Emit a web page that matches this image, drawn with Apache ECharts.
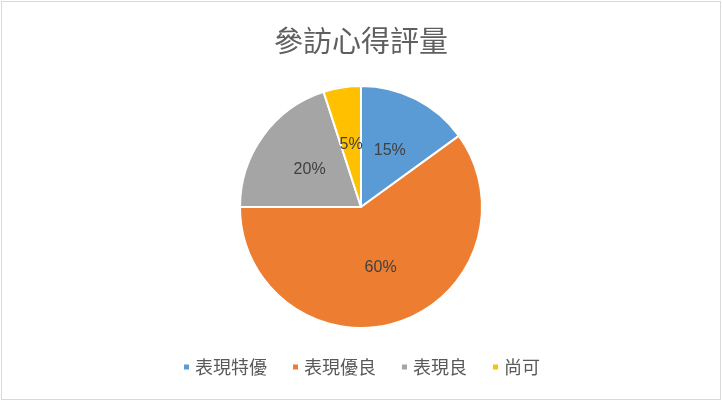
<!DOCTYPE html>
<html>
<head>
<meta charset="utf-8">
<script src="https://cdn.jsdelivr.net/npm/echarts@6/dist/echarts.min.js"></script>
<style>
  html, body { margin: 0; padding: 0; background: #fff; }
  #frame {
    position: absolute; left: 1px; top: 1px;
    width: 718px; height: 397px;
    border: 1px solid #d9d9d9; background: #fff;
  }
  #chart { width: 718px; height: 397px; }
</style>
</head>
<body>
<div id="frame"><div id="chart"></div></div>
<script>
const TITLE = '參訪心得評量';
const categories = ['表現特優', '表現優良', '表現良', '尚可'];
const values = [15, 60, 20, 5];
const colors = ['#5B9BD5', '#ED7D31', '#A5A5A5', '#FFC000'];

const cjk = '"Noto Sans CJK TC", "Noto Sans CJK SC", sans-serif';

const chart = echarts.init(document.getElementById('chart'));

chart.setOption({
  animation: false,
  backgroundColor: '#fff',
  title: {
    text: TITLE,
    left: 'center',
    top: 19,
    textStyle: { color: '#5f5f5f', fontSize: 29, fontWeight: 'normal', fontFamily: cjk },
  },
  legend: {
    bottom: 18,
    left: 'center',
    icon: 'rect',
    itemWidth: 7,
    itemHeight: 7,
    itemGap: 24,
    textStyle: { color: '#595959', fontSize: 18, fontFamily: cjk },
    data: categories,
  },
  series: [
    {
      type: 'pie',
      center: [359, 205],
      radius: 121,
      startAngle: 90,
      clockwise: true,
      itemStyle: { borderColor: '#fff', borderWidth: 2 },
      label: {
        show: true,
        position: 'inside',
        formatter: '{d}%',
        color: '#404040',
        fontSize: 16,
        fontFamily: '"Liberation Sans", Arial, sans-serif',
      },
      labelLine: { show: false },
      data: categories.map((name, i) => ({
        name,
        value: values[i],
        itemStyle: { color: colors[i] },
      })),
    },
  ],
});
</script>
</body>
</html>
